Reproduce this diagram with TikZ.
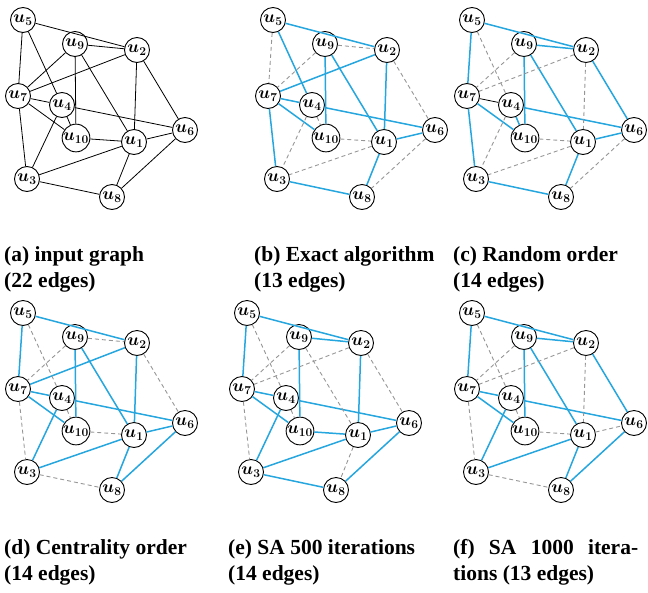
\documentclass[tikz,border=0pt]{standalone}
\usepackage{fontspec}
\setmainfont{Liberation Serif}
\usepackage{amsmath}
\definecolor{eblue}{RGB}{38,166,222}
\definecolor{egray}{RGB}{150,150,150}
\tikzset{
 vtx/.style={circle,draw=black,line width=0.9pt,fill=white,minimum size=25pt,inner sep=0pt,font=\fontsize{17.5}{17.5}\selectfont\boldmath},
 plain/.style={draw=black,line width=0.8pt},
 kept/.style={draw=eblue,line width=1.5pt},
 drop/.style={draw=egray,dash pattern=on 4pt off 3pt,line width=0.9pt},
 captext/.style={anchor=base west,inner sep=0pt,font=\fontsize{21.5}{26}\selectfont\bfseries}
}
\newcommand\vertices[3]{%
 \begin{scope}[shift={(#2,#3)}]
  \node[vtx] (#1-u5) at (23,20) {$u_{5}$};
  \node[vtx] (#1-u9) at (75,44) {$u_{9}$};
  \node[vtx] (#1-u2) at (137,50) {$u_{2}$};
  \node[vtx] (#1-u7) at (18,96) {$u_{7}$};
  \node[vtx] (#1-u4) at (62,105) {$u_{4}$};
  \node[vtx] (#1-u10) at (76,138) {$u_{10}$};
  \node[vtx] (#1-u1) at (134,142) {$u_{1}$};
  \node[vtx] (#1-u6) at (185,130) {$u_{6}$};
  \node[vtx] (#1-u3) at (27,179) {$u_{3}$};
  \node[vtx] (#1-u8) at (112,197) {$u_{8}$};
 \end{scope}}
\begin{document}
\begin{tikzpicture}[x=1pt,y=-1pt]
\useasboundingbox (0,0) rectangle (648,592);
% panels
\vertices{a}{0}{0}
\vertices{b}{250}{0}
\vertices{c}{449}{0}
\vertices{d}{0}{293}
\vertices{e}{224}{293}
\vertices{f}{449}{293}
% (a) input graph
\foreach \p/\q in {5/2,5/7,5/4,9/2,9/7,9/10,9/1,2/7,2/1,2/6,7/4,7/10,7/3,4/10,4/6,4/3,10/1,1/6,1/3,1/8,6/8,3/8}
  \draw[plain] (a-u\p) -- (a-u\q);
% (b) exact
\foreach \p/\q in {5/2,5/4,7/2,7/4,7/10,7/3,9/10,9/1,2/1,4/6,1/6,1/8,3/8}
  \draw[kept] (b-u\p) -- (b-u\q);
\foreach \p/\q in {5/7,9/7,9/2,2/6,4/10,4/3,10/1,1/3,6/8}
  \draw[drop] (b-u\p) -- (b-u\q);
% (c) random
\foreach \p/\q in {5/2,5/7,9/2,9/10,9/1,2/6,7/10,7/3,4/10,4/6,1/6,1/8,3/8}
  \draw[kept] (c-u\p) -- (c-u\q);
\draw[plain] (c-u7) -- (c-u4);
\foreach \p/\q in {5/4,9/7,2/7,2/1,4/3,10/1,1/3,6/8}
  \draw[drop] (c-u\p) -- (c-u\q);
% (d) centrality
\foreach \p/\q in {5/2,5/7,9/10,9/1,2/7,2/1,7/4,7/10,4/6,4/3,1/6,1/3,1/8,6/8}
  \draw[kept] (d-u\p) -- (d-u\q);
\foreach \p/\q in {5/4,9/2,9/7,2/6,7/3,4/10,10/1,3/8}
  \draw[drop] (d-u\p) -- (d-u\q);
% (e) SA 500
\foreach \p/\q in {5/2,5/7,9/2,9/10,2/1,7/4,7/10,4/6,4/3,10/1,1/6,1/3,6/8,3/8}
  \draw[kept] (e-u\p) -- (e-u\q);
\foreach \p/\q in {5/4,9/7,9/1,2/7,2/6,7/3,4/10,1/8}
  \draw[drop] (e-u\p) -- (e-u\q);
% (f) SA 1000
\foreach \p/\q in {5/2,5/7,9/2,9/10,9/1,2/6,7/4,7/10,4/6,4/3,1/3,1/8,6/8}
  \draw[kept] (f-u\p) -- (f-u\q);
\foreach \p/\q in {5/4,9/7,2/7,2/1,7/3,4/10,10/1,1/6,3/8}
  \draw[drop] (f-u\p) -- (f-u\q);
% captions
\node[captext] (capa1) at (4,261) {(a) input graph};
\node[captext] (capa2) at (4,287) {(22 edges)};
\node[captext] (capb1) at (254,261) {(b) Exact algorithm};
\node[captext] (capb2) at (254,287) {(13 edges)};
\node[captext] (capc1) at (453,261) {(c) Random order};
\node[captext] (capc2) at (453,287) {(14 edges)};
\node[captext] (capd1) at (4,554) {(d) Centrality order};
\node[captext] (capd2) at (4,580) {(14 edges)};
\node[captext] (cape1) at (228,554) {(e) SA 500 iterations};
\node[captext] (cape2) at (228,580) {(14 edges)};
\node[captext] (capf1) at (453,554) {\makebox[185pt][s]{(f) SA 1000 itera-}};
\node[captext] (capf2) at (453,580) {tions (13 edges)};
\end{tikzpicture}
\end{document}
